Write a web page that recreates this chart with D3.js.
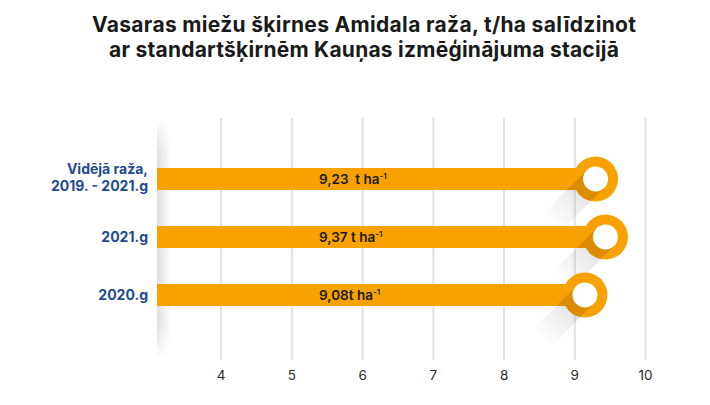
<!DOCTYPE html>
<html>
<head>
<meta charset="utf-8">
<script src="https://cdn.jsdelivr.net/npm/d3@7"></script>
<style>
  html, body { margin: 0; padding: 0; background: #fff; }
  svg { display: block; font-family: Inter, "Noto Sans", sans-serif; }
</style>
</head>
<body>
<svg id="chart" width="710" height="405"></svg>
<script>
// Yield of spring barley variety Amidala, t/ha
const titleLines = [
  "Vasaras miežu šķirnes Amidala raža, t/ha salīdzinot",
  "ar standartšķirnēm Kauņas izmēģinājuma stacijā"
];
const categories = [
  ["Vidējā raža,", "2019. - 2021.g"],
  ["2021.g"],
  ["2020.g"]
];
const yields = [9.23, 9.37, 9.08];
const unitGaps = ["  ", " ", ""];
const tickValues = [4, 5, 6, 7, 8, 9, 10];

const orange = "#F7A200";
const navy = "#1F4B8E";

const svg = d3.select("#chart");
const defs = svg.append("defs");

const x = d3.scaleLinear().domain([3.1, 10]).range([157, 645]);
const y = d3.scaleBand()
  .domain(d3.range(yields.length))
  .range([150, 324])
  .paddingInner(0.62)
  .paddingOuter(0.31);

const gridTop = 118, gridBottom = 360;
const ringR = 22.5, holeR = 12.5, shadowLen = 62, ringShift = 5;

// Title
const titleWidths = [544, 510];
svg.append("g").selectAll("text")
  .data(titleLines)
  .join("text")
  .attr("x", 364)
  .attr("y", (d, i) => 32 + i * 24.5)
  .attr("text-anchor", "middle")
  .attr("font-size", 21)
  .attr("font-weight", 700)
  .attr("fill", "#1a1a1a")
  .attr("textLength", (d, i) => titleWidths[i])
  .attr("lengthAdjust", "spacing")
  .text(d => d);

// Soft shading along the left edge of the plot
const edgeGrad = defs.append("linearGradient").attr("id", "edgeGrad");
edgeGrad.append("stop").attr("offset", "0").attr("stop-color", "#000").attr("stop-opacity", 0.13);
edgeGrad.append("stop").attr("offset", "1").attr("stop-color", "#000").attr("stop-opacity", 0);
const edgeFade = defs.append("linearGradient").attr("id", "edgeFade")
  .attr("x1", 0).attr("y1", 0).attr("x2", 0).attr("y2", 1);
[[0, 0], [0.15, 1], [0.85, 1], [1, 0]].forEach(([o, v]) =>
  edgeFade.append("stop").attr("offset", o).attr("stop-color", "#fff").attr("stop-opacity", v));
const edgeMask = defs.append("mask").attr("id", "edgeMask");
edgeMask.append("rect")
  .attr("x", x(3.1)).attr("y", gridTop).attr("width", 14).attr("height", gridBottom - gridTop)
  .attr("fill", "url(#edgeFade)");
svg.append("rect")
  .attr("x", x(3.1)).attr("y", gridTop).attr("width", 14).attr("height", gridBottom - gridTop)
  .attr("fill", "url(#edgeGrad)")
  .attr("mask", "url(#edgeMask)");

// Vertical grid lines and tick labels
const axis = d3.axisBottom(x)
  .tickValues(tickValues)
  .tickSize(-(gridBottom - gridTop))
  .tickPadding(10)
  .tickFormat(d3.format("d"));
const axisG = svg.append("g")
  .attr("transform", `translate(0,${gridBottom})`)
  .call(axis);
axisG.select(".domain").remove();
axisG.selectAll(".tick line").attr("stroke", "#e2e2e2").attr("stroke-width", 2);
axisG.selectAll(".tick text")
  .attr("font-size", 13.5)
  .attr("fill", "#2a2a2a")
  .attr("font-family", "Inter, sans-serif");

const rows = yields.map((v, i) => ({
  v, i,
  cx: x(v) + ringShift,
  cy: y(i) + y.bandwidth() / 2
}));

// Long shadow band cast down-left from each ring
function shadowPath(r) {
  const n = Math.SQRT1_2, d = Math.SQRT1_2;
  const ax = r.cx + holeR * n, ay = r.cy + holeR * n;
  const bx = r.cx - holeR * n, by = r.cy - holeR * n;
  const L = shadowLen;
  return `M${ax},${ay} L${ax - L * d},${ay + L * d} L${bx - L * d},${by + L * d} L${bx},${by} Z`;
}

rows.forEach(r => {
  const g = defs.append("linearGradient")
    .attr("id", "sh" + r.i)
    .attr("gradientUnits", "userSpaceOnUse")
    .attr("x1", r.cx).attr("y1", r.cy)
    .attr("x2", r.cx - shadowLen * Math.SQRT1_2).attr("y2", r.cy + shadowLen * Math.SQRT1_2);
  g.append("stop").attr("offset", "0.3").attr("stop-color", "#000").attr("stop-opacity", 0.1);
  g.append("stop").attr("offset", "1").attr("stop-color", "#000").attr("stop-opacity", 0);
});

svg.append("g").selectAll("path")
  .data(rows)
  .join("path")
  .attr("d", shadowPath)
  .attr("fill", r => `url(#sh${r.i})`);

// Bars and ring markers
const marks = svg.append("g");
marks.selectAll("rect")
  .data(rows)
  .join("rect")
  .attr("x", x(3.1))
  .attr("y", r => y(r.i))
  .attr("width", r => r.cx - x(3.1))
  .attr("height", y.bandwidth())
  .attr("fill", orange);
marks.selectAll("circle")
  .data(rows)
  .join("circle")
  .attr("cx", r => r.cx)
  .attr("cy", r => r.cy)
  .attr("r", ringR)
  .attr("fill", orange);

// Darker part of the shadow where it falls on the orange shapes
rows.forEach(r => {
  const cp = defs.append("clipPath").attr("id", "cp" + r.i);
  cp.append("rect")
    .attr("x", x(3.1)).attr("y", y(r.i))
    .attr("width", r.cx - x(3.1)).attr("height", y.bandwidth());
  cp.append("circle").attr("cx", r.cx).attr("cy", r.cy).attr("r", ringR);
});
svg.append("g").selectAll("path")
  .data(rows)
  .join("path")
  .attr("d", shadowPath)
  .attr("clip-path", r => `url(#cp${r.i})`)
  .attr("fill", "#a35a00")
  .attr("fill-opacity", 0.3);

// Ring holes
svg.append("g").selectAll("circle")
  .data(rows)
  .join("circle")
  .attr("cx", r => r.cx)
  .attr("cy", r => r.cy)
  .attr("r", holeR)
  .attr("fill", "#fff");

// Value labels on the bars
const fmt = v => d3.format(".2f")(v).replace(".", ",");
const vl = svg.append("g").selectAll("text")
  .data(rows)
  .join("text")
  .attr("x", 319)
  .attr("y", r => r.cy + 4.5)
  .attr("font-size", 13.5)
  .attr("font-weight", 600)
  .attr("fill", "#1a1a1a")
  .style("white-space", "pre");
vl.append("tspan").text(r => fmt(r.v) + unitGaps[r.i] + "t ha");
vl.append("tspan").attr("dy", -5).attr("font-size", 8).text("-1");

// Category labels
const cl = svg.append("g").selectAll("text")
  .data(rows)
  .join("text")
  .attr("x", 148)
  .attr("text-anchor", "end")
  .attr("font-size", 14)
  .attr("font-weight", 700)
  .attr("fill", navy);
cl.each(function (r) {
  const lines = categories[r.i];
  const t = d3.select(this);
  lines.forEach((line, k) => {
    t.append("tspan")
      .attr("x", 148)
      .attr("y", r.cy + 5 + (k - (lines.length - 1) / 2) * 17 - (lines.length > 1 ? 2 : 0))
      .text(line);
  });
});
</script>
</body>
</html>
